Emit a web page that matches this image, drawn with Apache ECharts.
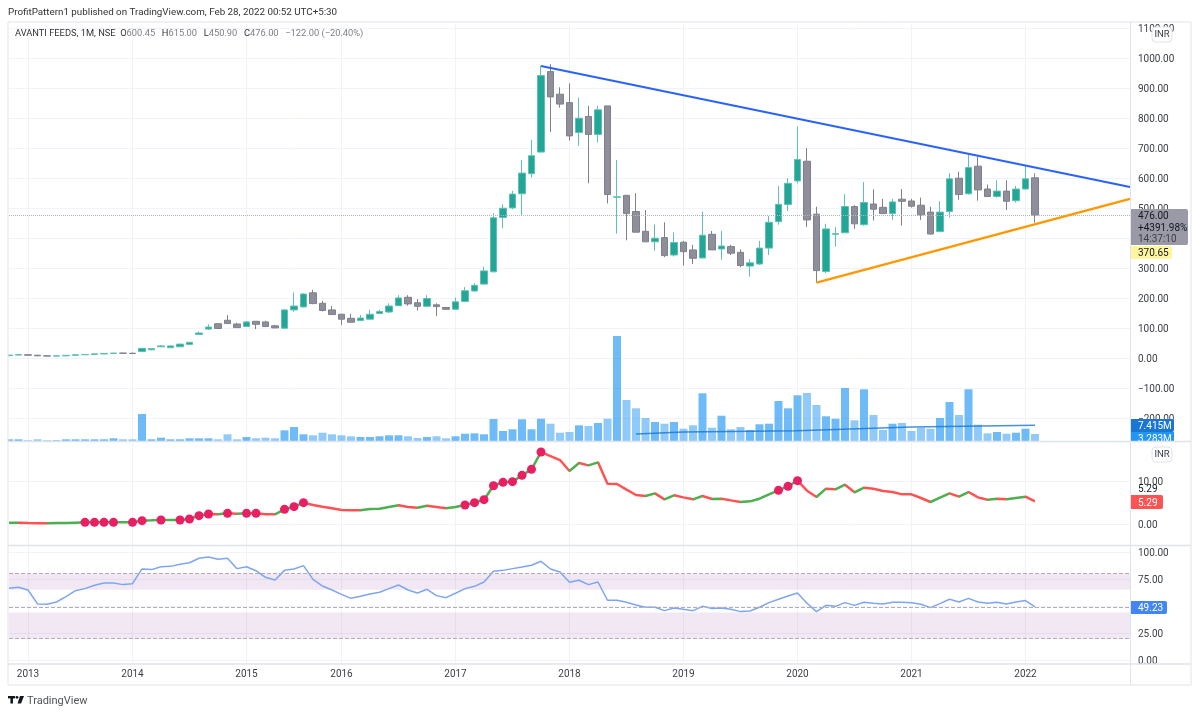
<!DOCTYPE html>
<html>
<head>
<meta charset="utf-8">
<title>AVANTI FEEDS</title>
<script src="https://cdn.jsdelivr.net/npm/echarts@6/dist/echarts.min.js"></script>
<style>
  html, body { margin: 0; padding: 0; background: #fff; }
  #main { width: 1200px; height: 714px; }
</style>
</head>
<body>
<div id="main"></div>
<script>
// monthly bars, index 0 is the first bar on the chart
const opens = [7.5,9.5,10.5,9,7,6,6.8,8.5,10.5,11.5,13,15,16,15.5,
  21,27,37,34,37,44.5,78,96,114,125.5,113,104.5,122,120,107,99,
  160,170,217,182,160,145.5,132,124.5,129,148,153,174,202,184,172,177,168,162,188,223,
  246,287,468,500,547,614,686,954.5,879,851,751,805,745,840,535.5,542,488,422,387,401,343,385.5,360,
  333,412,363,371,352,306,313,366,454,511,590,655.6,479,288,412,417,504.5,444,513,502,481,529,523,509,486,421,488,599,547,639,563,538,556,524,563,600.45];
const closes = [9.5,11,9,7,6,6.8,8.5,10.5,11.5,13.5,15,16,15.5,14.5,
  32,31,40,40,46,52,83,103,98,114.5,101,120,112,104.5,100,160,
  173,213,181,158,144.5,129,119,133,145.5,154.5,173,200,180,172,198,171,162,187,224,242,
  290,467,499,546,616,674,941,870,846,740,799,745,827,544.5,537,481,419,387,399,341,384.5,354,332,
  409,360,373,349,308,317,366,452,512,582,661,460,291,430,414,504.5,447,518,495.6,481,520,522,505.6,477,413,486,597,544.5,634.5,560,538,556,522,563,597,476];
const lows = [7,9,8.5,6,5.5,5.5,6.5,8,10,11,12.5,14,14.5,14,
  20,25,36,33,36,43,76,93,96,113,100,103,96,103,99,98,
  154,168,179,155,143,110,118,123,127,147,149,173,174,158,171,140,160,160,186,221,
  245,285,432,495,473,601,685,753,834,724,707,582,718,515,414,392,419,387,357,336,338,308,313,
  333,360,327,343,302,271,310,343,444,490,582,436,251,282,371,417,430,441,458,481,460,441,501,460,411,419,468,527,544,524,538,534,493,518,561,450.9];
const highs = [10,12,11,9.5,8,7,9,11,12,14,15.5,16.5,17,18,
  33,33,43,41,47,53,88,112,116,143,117,123,123,124,110,163,
  218,216,227,190,173,147,147,143,160,160,182,209,209,196,209,182,170,201,236,249,
  304,482,512,557,660,727,974,979,902,915,868,840,840,840,660,542,549,493,445,452,418,390,377,
  488,423,423,377,362,329,390,473,573,599,771,699,504,447,436,546,509,586,562,530,530,563,530,534,504,523,616,621,679,671,578,592,592,573,640,615];

// volume in millions
const volumes = [.8,.8,.33,.8,.33,.33,.8,.8,.8,.8,.8,1.27,.8,.8,12.69,.8,1.55,.8,.8,1.27,1.27,1.27,.8,3.15,.8,1.88,1.27,1.55,1.27,5.03,
  6.58,3.15,2.68,3.9,3.15,2.68,2.21,1.88,1.88,2.21,2.68,2.68,2.21,1.41,1.88,2.21,1.27,2.21,3.43,3.62,3.15,10.34,4.7,5.5,10.2,5.5,10.48,8.13,3.9,4.23,
  7.38,7.05,8.46,10.48,49.35,19.27,15.37,10.81,8.93,8.13,8.93,5.78,7.38,22.42,6.25,11.89,5.5,6.58,5.17,7.85,8.13,18.8,15.37,21.48,22.56,16.92,11.61,10.48,24.91,9.73,
  24.3,12.22,5.17,8.13,8.46,4.7,6.25,5.78,10.81,18.33,12.22,24.3,7.66,3.62,4.23,3.43,3.9,5.78,3.283];
const volumeMa = [[66,3.3],[71,4.2],[83,4.8],[95,6.6],[108,7.415]];

const indicator = [.31,.31,.23,.16,.16,.23,.23,.31,.39,.39,.39,.39,.39,.39,.78,.85,.93,.93,.93,1.16,1.94,2.33,2.25,2.48,2.4,2.48,2.48,2.25,2.25,3.41,
  4.03,4.96,4.42,4.03,3.65,3.26,3.18,3.18,3.49,3.57,3.96,4.34,3.96,3.8,4.27,3.96,3.65,3.96,4.42,4.96,5.66,8.91,9.69,9.85,11.32,12.71,16.74,15.81,14.88,12.33,
  14.19,13.64,14.34,9.38,9.3,7.99,6.75,6.51,7.13,5.74,6.67,6.2,5.74,6.51,5.82,5.89,5.5,5.12,5.27,5.89,6.9,7.83,8.76,10.08,7.75,6.28,8.22,8.06,9.15,7.37,
  8.45,8.22,7.67,7.44,6.9,6.9,6.05,5.12,6.13,7.13,6.36,7.44,6.2,5.66,5.89,5.74,6.05,6.36,5.29];
const dotBars = [8,9,10,11,13,14,16,18,19,20,21,23,25,26,29,30,31,48,49,50,51,52,53,54,55,56,81,82,83];

const rsi = [66.4,67.3,64.8,51.9,51.6,53.7,58.7,64.2,66.1,69.2,71.3,71.3,69.8,70.7,84.3,83.7,86.4,86.7,88.6,90.1,94.2,95.4,93.2,94.2,84.6,86.4,82.7,76.6,74.1,83,
  84.3,87.4,74.7,68.5,64.8,60.8,57.1,59,61.1,62.7,66.1,69.5,64.8,62,65.5,59.6,57.7,61.8,66.1,68.2,72.2,82.1,83,84.6,86.1,87.7,91.4,84.3,81.5,71.9,
  73.8,69.8,72.2,55.3,55.3,53.4,51,48.8,48.8,45.7,48.2,46.9,45.7,49.7,47.6,48.2,46.9,44.8,45.4,48.8,53.1,56.2,59.3,62,52.5,44.8,50.6,49.7,53.1,50.6,
  53.4,52.5,51.9,53.4,53.4,53.1,51.6,48.5,52.2,56.2,53.7,57.1,53.7,52.5,53.4,51.9,53.7,55,49.23];

const blueLine = [[56,973],[118,570]];
const orangeLine = [[85,251],[118,530]];

const barCount = 119; // bars plus the empty room on the right
const yearBars = [2,13,25,35,47,59,71,83,95,107];
const yearLabels = ["2013","2014","2015","2016","2017","2018","2019","2020","2021","2022"];

const priceTicks = [-200,-100,0,100,200,300,400,500,600,700,800,900,1000,1100];
const indicatorTicks = [0,10];
const rsiTicks = [0,25,50,75,100];

const FONT = "Roboto";
const GRID_COLOR = "#f0f3fa";
const FRAME_COLOR = "#e0e3eb";
const TEXT_COLOR = "#3b3e48";
const AXIS_FONT_SIZE = 10;

let categories = [];
for (let i = 0; i < barCount; i++) {
  let pos = yearBars.indexOf(i);
  categories.push(pos >= 0 ? yearLabels[pos] : "m" + i);
}
const isYear = (i) => yearBars.indexOf(i) >= 0;

// the rich box pads the top so that the figures sit on their grid line
const fmt = (v) => "{v|" + (v < 0 ? "\u2212" + (-v).toFixed(2) : v.toFixed(2)) + "}";

function makeX(gridIndex, showLabel) {
  return {
    type: "category",
    gridIndex: gridIndex,
    data: categories,
    boundaryGap: false,
    axisLine: { show: false },
    axisTick: { show: false },
    axisLabel: {
      show: showLabel,
      interval: (i) => isYear(i),
      color: TEXT_COLOR,
      fontFamily: FONT,
      fontSize: AXIS_FONT_SIZE,
      margin: 6
    },
    splitLine: { show: true, interval: (i) => isYear(i), lineStyle: { color: GRID_COLOR, width: 1 } }
  };
}

function makeY(gridIndex, min, max, ticks) {
  return {
    type: "value",
    gridIndex: gridIndex,
    position: "right",
    min: min,
    max: max,
    axisLine: { show: false },
    axisTick: { show: false, customValues: ticks },
    axisLabel: {
      customValues: ticks,
      formatter: fmt,
      rich: {
        v: { color: TEXT_COLOR, fontFamily: FONT, fontSize: AXIS_FONT_SIZE, padding: [3, 0, 0, 0] }
      },
      margin: 8
    },
    splitLine: { show: true, lineStyle: { color: GRID_COLOR, width: 1 } }
  };
}

// green while the line rises, red while it falls
let segmentPieces = [];
let lastColor = "#4caf50";
for (let i = 0; i < indicator.length - 1; i++) {
  if (indicator[i + 1] > indicator[i]) lastColor = "#4caf50";
  if (indicator[i + 1] < indicator[i]) lastColor = "#ff5252";
  segmentPieces.push({ gte: i, lt: i + 1, color: lastColor });
}

function axisText(y, text, color) {
  return { type: "text", z: 51, style: { x: 1138, y: y + 1, text: text, fill: color, font: AXIS_FONT_SIZE + "px " + FONT, textVerticalAlign: "middle" } };
}

function tag(x, y, w, h, color, text, textColor) {
  return [
    { type: "rect", z: 50, shape: { x: x, y: y, width: w, height: h, r: [0, 2, 2, 0] }, style: { fill: color } },
    axisText(y + h / 2, text, textColor)
  ];
}

function frameLine(x1, y1, x2, y2, width) {
  return { type: "line", z: 60, shape: { x1: x1, y1: y1, x2: x2, y2: y2 }, style: { stroke: FRAME_COLOR, lineWidth: width || 1 } };
}

function inrBox(y) {
  return [
    { type: "rect", z: 52, shape: { x: 1152, y: y, width: 20, height: 15, r: 4 }, style: { fill: "#fff", stroke: FRAME_COLOR } },
    { type: "text", z: 53, style: { x: 1162, y: y + 8, text: "INR", fill: TEXT_COLOR, font: "9.5px " + FONT, textAlign: "center", textVerticalAlign: "middle" } }
  ];
}

const chromeGraphics = [
  { type: "text", style: { x: 8, y: 13, text: "ProfitPattern1 published on TradingView.com, Feb 28, 2022 00:52 UTC+5:30", fill: "#333", font: "9.8px " + FONT, textVerticalAlign: "middle" } },
  { type: "text", z: 40, style: {
      x: 15, y: 34, textVerticalAlign: "middle",
      text: "{a|AVANTI FEEDS, 1M, NSE  O}{b|600.45}  {a|H}{b|615.00}  {a|L}{b|450.90}  {a|C}{b|476.00}  {b|\u2212122.00 (\u221220.40%)}",
      rich: {
        a: { fill: "#333", font: "9.3px " + FONT },
        b: { fill: "#7d7f8a", font: "9.3px " + FONT }
      }
    } },

  // white covers so that bars and axis labels get cut at the pane edges
  { type: "rect", z: 45, shape: { x: 0, y: 23, width: 8, height: 640 }, style: { fill: "#fff" } },
  { type: "rect", z: 45, shape: { x: 1131, y: 441, width: 60, height: 6 }, style: { fill: "#fff" } },
  { type: "rect", z: 45, shape: { x: 1131, y: 664, width: 60, height: 6 }, style: { fill: "#fff" } },
  { type: "rect", z: 45, shape: { x: 1131, y: 16, width: 60, height: 6 }, style: { fill: "#fff" } },

  // frame
  frameLine(8, 22, 1191, 22),
  frameLine(8, 22, 8, 685),
  frameLine(1191, 22, 1191, 685),
  frameLine(8, 685, 1191, 685),
  frameLine(1130.5, 22, 1130.5, 685),
  frameLine(8, 441.5, 1191, 441.5, 1.5),
  frameLine(8, 545.5, 1191, 545.5, 1.5),
  frameLine(8, 664, 1191, 664, 1.5),

  ...inrBox(27),
  ...inrBox(447),

  { type: "rect", z: 50, shape: { x: 1130, y: 209, width: 58, height: 36, r: [0, 2, 2, 0] }, style: { fill: "#999aa5" } },
  axisText(215.5, "476.00", "#131722"),
  axisText(227, "+4391.98%", "#131722"),
  axisText(238.5, "14:37:10", "#3b3e48"),
  ...tag(1130, 246, 42, 13, "#fff59d", "370.65", "#131722"),
  ...tag(1130, 419, 44, 13, "#1976d2", "7.415M", "#fff"),
  { type: "rect", z: 50, shape: { x: 1130, y: 432, width: 44, height: 9 }, style: { fill: "#2196f3" } },
  axisText(438, "3.283M", "#fff"),

  axisText(488, "5.29", "#131722"),
  ...tag(1130, 495, 33, 14, "#ff5252", "5.29", "#fff"),
  ...tag(1130, 601, 37, 13, "#4285f4", "49.23", "#fff"),

  // TradingView mark
  { type: "rect", shape: { x: 8, y: 696, width: 7, height: 2.4 }, style: { fill: "#131722" } },
  { type: "rect", shape: { x: 10.4, y: 696, width: 2.6, height: 7.5 }, style: { fill: "#131722" } },
  { type: "circle", shape: { cx: 17, cy: 697.3, r: 1.4 }, style: { fill: "#131722" } },
  { type: "polygon", shape: { points: [[20, 696], [24, 696], [21, 703.5], [17.5, 703.5]] }, style: { fill: "#131722" } },
  { type: "text", style: { x: 27, y: 701, text: "TradingView", fill: "#50535e", font: "11px " + FONT, textVerticalAlign: "middle" } }
];

const chart = echarts.init(document.getElementById("main"), null, { renderer: "canvas" });

const option = {
  animation: false,
  backgroundColor: "#fff",
  grid: [
    { left: 9, width: 1121, top: 24, height: 417 },
    { left: 9, width: 1121, top: 443, height: 102 },
    { left: 9, width: 1121, top: 546, height: 117 }
  ],
  xAxis: [makeX(0, false), makeX(1, false), makeX(2, true)],
  yAxis: [
    makeY(0, -277, 1113, priceTicks),
    { type: "value", gridIndex: 0, min: 0, max: 196, show: false },
    makeY(1, -4.88, 18.84, indicatorTicks),
    makeY(2, -2.78, 105.56, rsiTicks)
  ],
  visualMap: [
    { show: false, type: "piecewise", seriesIndex: 5, dimension: 0, pieces: segmentPieces }
  ],
  series: [
    {
      name: "Volume",
      type: "bar",
      xAxisIndex: 0,
      yAxisIndex: 1,
      barWidth: 8,
      z: 2,
      data: volumes,
      itemStyle: {
        color: (p) => (closes[p.dataIndex] >= opens[p.dataIndex] ? "rgba(33,150,243,0.65)" : "rgba(33,150,243,0.5)")
      }
    },
    {
      name: "Volume MA",
      type: "line",
      xAxisIndex: 0,
      yAxisIndex: 1,
      showSymbol: false,
      z: 3,
      data: volumeMa,
      lineStyle: { color: "#1976d2", width: 1.5, opacity: 0.8 }
    },
    {
      name: "AVANTI FEEDS",
      type: "candlestick",
      xAxisIndex: 0,
      yAxisIndex: 0,
      barWidth: 7,
      z: 4,
      data: opens.map((o, i) => [o, closes[i], lows[i], highs[i]]),
      itemStyle: {
        color: "#22a698",
        color0: "#8e8f9a",
        borderColor: "#5fc0b3",
        borderColor0: "#7f808c",
        borderWidth: 1
      },
      markLine: {
        silent: true,
        symbol: "none",
        label: { show: false },
        lineStyle: { color: "#b2b5be", type: "dotted", width: 1 },
        data: [{ yAxis: closes[closes.length - 1] }]
      }
    },
    {
      name: "Upper trend",
      type: "line",
      xAxisIndex: 0,
      yAxisIndex: 0,
      showSymbol: false,
      z: 5,
      data: blueLine,
      lineStyle: { color: "#2962ff", width: 2 }
    },
    {
      name: "Lower trend",
      type: "line",
      xAxisIndex: 0,
      yAxisIndex: 0,
      showSymbol: false,
      z: 5,
      data: orangeLine,
      lineStyle: { color: "#ff9800", width: 2.5 }
    },
    {
      name: "Indicator",
      type: "line",
      xAxisIndex: 1,
      yAxisIndex: 2,
      showSymbol: false,
      data: indicator,
      lineStyle: { width: 2.5 }
    },
    {
      name: "Signal",
      type: "scatter",
      xAxisIndex: 1,
      yAxisIndex: 2,
      symbolSize: 9,
      z: 4,
      data: dotBars.map((i) => [i, indicator[i]]),
      itemStyle: { color: "#e91e63", opacity: 1 }
    },
    {
      name: "RSI",
      type: "line",
      xAxisIndex: 2,
      yAxisIndex: 3,
      showSymbol: false,
      data: rsi,
      lineStyle: { color: "#7ea6ee", width: 1.5 },
      markArea: {
        silent: true,
        itemStyle: { color: "rgba(149,76,170,0.13)" },
        data: [
          [{ yAxis: 80 }, { yAxis: 65 }],
          [{ yAxis: 44 }, { yAxis: 20 }]
        ]
      },
      markLine: {
        silent: true,
        symbol: "none",
        label: { show: false },
        lineStyle: { color: "#b5abb5", type: "dashed", width: 1 },
        data: [{ yAxis: 80 }, { yAxis: 49.3 }, { yAxis: 20 }]
      }
    }
  ],
  graphic: { elements: chromeGraphics }
};

chart.setOption(option);
window.addEventListener("resize", chart.resize);
</script>
</body>
</html>
